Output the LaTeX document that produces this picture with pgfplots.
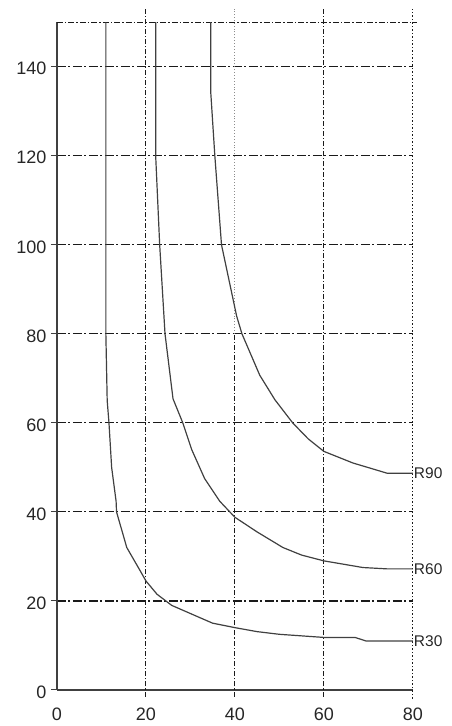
\documentclass[border=0pt]{standalone}
\usepackage{fontspec}
\setmainfont{Liberation Sans}
\usepackage{pgfplots}
\pgfplotsset{compat=1.18}

\definecolor{curve}{HTML}{404040}
\definecolor{gridc}{HTML}{1A1A1A}

\begin{document}
\begin{tikzpicture}
\begin{axis}[
  scale only axis,
  width=356pt, height=668pt,
  xmin=0, xmax=80,
  ymin=0, ymax=150,
  xtick={0,20,40,60,80},
  ytick={0,20,40,60,80,100,120,140},
  axis x line*=bottom,
  axis y line*=left,
  axis line style={line width=1.2pt, curve, -},
  x tick style={draw=none},
  y tick style={line width=1pt, curve},
  major tick length=6pt,
  tick align=outside,
  ymajorgrids=true,
  grid style={gridc, line width=1.2pt, dash pattern=on 9pt off 2.5pt on 2pt off 2.5pt},
  /pgf/number format/assume math mode=true,
  tick label style={font=\fontsize{18}{20}\selectfont, text=black!85},
  xticklabel style={yshift=-8pt},
  yticklabel style={xshift=-1pt, yshift=-2pt},
  clip=false,
]
% vertical grid lines and dotted frame
\draw[gridc, line width=1.2pt, dash pattern=on 5pt off 2pt on 1.2pt off 2pt]
  (axis cs:20,-1.5) -- (axis cs:20,153);
\draw[gridc, line width=1.2pt, dash pattern=on 5pt off 2pt on 1.2pt off 2pt]
  (axis cs:60,-1.5) -- (axis cs:60,153);
\draw[gridc, line width=1.2pt, dash pattern=on 5pt off 2pt on 1.2pt off 2pt]
  (axis cs:40,-1.5) -- (axis cs:40,80);
\draw[black!45, line width=0.9pt, dotted] (axis cs:40,80) -- (axis cs:40,153);
\draw[gridc, line width=1.1pt, dash pattern=on 1.5pt off 2pt]
  (axis cs:80,-2) -- (axis cs:80,153);
\draw[gridc, line width=1.1pt, dash pattern=on 6pt off 2pt on 1.5pt off 2pt]
  (axis cs:0,150) -- (axis cs:81,150);

% R30
\addplot[curve, line width=1.2pt] coordinates {
  (11,150) (11,80) (11.3,65) (11.7,60) (12.3,50) (13.3,42.4) (13.4,40)
  (15.7,32) (18.7,26.8) (20,24.5) (22.5,21.5) (25.8,19) (32,16.3)
  (35,15) (40,14) (45,13.1) (50,12.5) (60,11.8) (67,11.8) (69.5,11) (80,11)
};
% R60
\addplot[curve, line width=1.2pt] coordinates {
  (22.2,150) (22.2,120) (23.1,100) (24.3,80) (26.1,65.4) (28.3,60)
  (30.3,54) (33.2,47.5) (36.6,42.4) (40,38.8) (45,35.5) (50.8,32)
  (55,30.3) (60,29) (68.8,27.5) (74.2,27.2) (80,27.2)
};
% R90
\addplot[curve, line width=1.2pt] coordinates {
  (34.6,150) (34.6,134) (35.5,120) (37,100) (40.4,84) (41.6,80)
  (45.6,70.7) (49,65.2) (53,60) (56.5,56.4) (60,53.6) (66.5,51)
  (74.2,48.7) (80,48.7)
};

\node[anchor=west, inner sep=1pt, font=\fontsize{15.5}{17}\selectfont, text=black!85]
  at (axis cs:80,48.7) {R90};
\node[anchor=west, inner sep=1pt, font=\fontsize{15.5}{17}\selectfont, text=black!85]
  at (axis cs:80,27.2) {R60};
\node[anchor=west, inner sep=1pt, font=\fontsize{15.5}{17}\selectfont, text=black!85]
  at (axis cs:80,11) {R30};

% page extent
\path (axis cs:-12.8,-8.1) rectangle (axis cs:88.8,155);
\end{axis}
\end{tikzpicture}
\end{document}
